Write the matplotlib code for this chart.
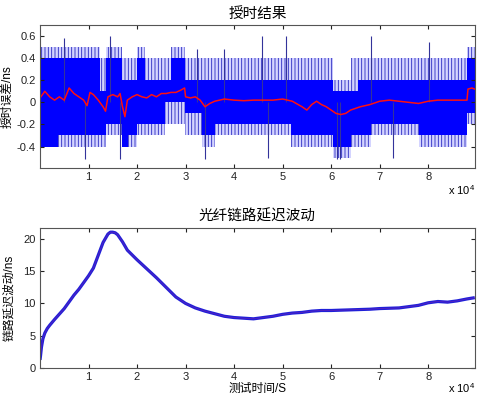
import numpy as np
import matplotlib
matplotlib.use('Agg')
import matplotlib.pyplot as plt

plt.rcParams['font.family'] = ['Liberation Sans', 'Noto Sans CJK SC']
plt.rcParams['mathtext.default'] = 'regular'
plt.rcParams['hatch.linewidth'] = 0.6

# ---- top panel: timing error (x in units of 1e4 s) ----
band_edges = [0, 0.38, 1.24, 1.36, 1.70, 1.82, 2.00, 2.17, 2.58, 2.69, 2.99,
              3.33, 3.60, 5.18, 6.03, 6.40, 6.55, 6.82, 7.82, 8.81, 8.96]
band_top = [0.4, 0.4, 0.1, 0.4, 0.2, 0.2, 0.4, 0.2, 0.2, 0.4,
            0.2, 0.2, 0.2, 0.2, 0.1, 0.1, 0.2, 0.2, 0.2, 0.4]
fringe_top = [0.5, 0.5, 0.4, 0.5, 0.4, 0.4, 0.5, 0.4, 0.4, 0.5,
              0.4, 0.4, 0.4, 0.4, 0.2, 0.4, 0.4, 0.4, 0.4, 0.5]
band_bot = [-0.4, -0.3, -0.3, -0.2, -0.4, -0.3, -0.2, -0.2, 0.0, 0.0,
            -0.1, -0.3, -0.2, -0.3, -0.4, -0.3, -0.3, -0.2, -0.3, -0.1]
fringe_bot = [-0.4, -0.4, -0.4, -0.3, -0.4, -0.4, -0.3, -0.3, -0.2, -0.2,
              -0.3, -0.4, -0.3, -0.4, -0.5, -0.4, -0.4, -0.3, -0.4, -0.2]

spike_up_t = [0.50, 1.45, 3.24, 3.79, 4.57, 5.07, 6.83, 8.01]
spike_up_v = [0.58, 0.60, 0.48, 0.48, 0.60, 0.60, 0.60, 0.55]
spike_dn_t = [0.93, 1.65, 3.41, 4.69, 6.12, 6.18, 7.27]
spike_dn_v = [-0.51, -0.51, -0.51, -0.50, -0.51, -0.51, -0.50]

mean_t = [0, 0.1, 0.2, 0.3, 0.4, 0.5, 0.6, 0.7, 0.8, 0.9, 0.97, 1.03, 1.1, 1.2,
          1.3, 1.35, 1.4, 1.5, 1.6, 1.65, 1.7, 1.75, 1.8, 1.9, 2.0, 2.1, 2.2,
          2.3, 2.4, 2.5, 2.6, 2.7, 2.8, 2.9, 2.98, 3.0, 3.1, 3.2, 3.3, 3.4,
          3.5, 3.6, 3.7, 3.8, 4.0, 4.2, 4.4, 4.6, 4.8, 5.0, 5.2, 5.4, 5.5,
          5.6, 5.7, 5.8, 5.9, 6.0, 6.1, 6.2, 6.3, 6.4, 6.6, 6.8, 7.0, 7.2,
          7.4, 7.6, 7.8, 8.0, 8.2, 8.4, 8.6, 8.8, 8.82, 8.9, 8.96]
mean_v = [0.04, 0.10, 0.05, 0.02, 0.05, 0.02, 0.13, 0.08, 0.05, 0.02, -0.03, 0.09,
          0.07, 0.02, -0.04, -0.08, 0.05, 0.07, 0.05, 0.08, -0.04, -0.13, 0.02,
          0.05, 0.07, 0.05, 0.04, 0.07, 0.05, 0.08, 0.08, 0.09, 0.09, 0.11,
          0.13, 0.05, 0.04, 0.05, 0.02, -0.04, -0.01, 0.01, 0.02, 0.03, 0.02,
          0.015, 0.02, 0.02, 0.02, 0.03, 0.01, -0.04, -0.07, -0.02, 0.01,
          -0.02, -0.04, -0.07, -0.10, -0.11, -0.10, -0.07, -0.04, -0.02, 0.01,
          0.02, 0.01, 0.0, -0.01, 0.01, 0.02, 0.02, 0.02, 0.02, 0.12, 0.13, 0.12]

# ---- bottom panel: fibre link delay ----
delay_t = [0, 0.01, 0.03, 0.06, 0.1, 0.15, 0.2, 0.3, 0.5, 0.7, 0.8, 1.0, 1.1,
           1.2, 1.3, 1.4, 1.45, 1.5, 1.55, 1.6, 1.7, 1.8, 2.0, 2.2, 2.4, 2.6,
           2.8, 3.0, 3.2, 3.4, 3.6, 3.8, 4.0, 4.2, 4.4, 4.6, 4.8, 5.0, 5.2,
           5.4, 5.6, 5.8, 6.0, 6.4, 6.8, 7.0, 7.4, 7.8, 8.0, 8.2, 8.4, 8.6,
           8.8, 8.96]
delay_v = [1.2, 1.8, 3.2, 4.5, 5.4, 6.1, 6.6, 7.5, 9.2, 11.3, 12.2, 14.3, 15.5,
           17.5, 19.5, 20.8, 21.1, 21.1, 21.0, 20.7, 19.6, 18.3, 16.8, 15.4,
           14.0, 12.5, 11.0, 10.0, 9.3, 8.8, 8.4, 8.0, 7.8, 7.7, 7.6, 7.8, 8.0,
           8.3, 8.5, 8.6, 8.8, 8.9, 8.9, 9.0, 9.1, 9.2, 9.3, 9.7, 10.1, 10.3,
           10.2, 10.4, 10.7, 10.9]

xticks = [1, 2, 3, 4, 5, 6, 7, 8]
scale = 1e4


def step(vals):
    return list(vals) + [vals[-1]]


def matlab_axes(ax):
    ax.tick_params(direction='in', top=True, right=True, length=3,
                   labelsize=8, colors='#222222', pad=3)
    for s in ax.spines.values():
        s.set_color('#555555')
        s.set_linewidth(0.8)
    ax.set_xticks([x * scale for x in xticks])
    ax.set_xticklabels([str(x) for x in xticks])
    ax.set_xlim(0, 8.96 * scale)


fig = plt.figure(figsize=(4.82, 3.97), dpi=100)
ax1 = fig.add_axes([0.083, 0.578, 0.902, 0.359])
ax2 = fig.add_axes([0.083, 0.074, 0.902, 0.3525])

te = np.array(band_edges) * scale
blue = '#0000ff'
ax1.fill_between(te, step(fringe_bot), step(fringe_top), step='post',
                 facecolor=(0.45, 0.45, 1.0, 0.3), edgecolor='#2626c0',
                 hatch='|||||', linewidth=0)
ax1.fill_between(te, step(band_bot), step(band_top), step='post',
                 facecolor=blue, linewidth=0)
ax1.vlines(np.array(spike_up_t) * scale, 0, spike_up_v, color='#33339a', lw=0.8)
ax1.vlines(np.array(spike_dn_t) * scale, spike_dn_v, 0, color='#33339a', lw=0.8)
ax1.plot(np.array(mean_t) * scale, mean_v, color='#ff1010', lw=1.1)
matlab_axes(ax1)
ax1.set_ylim(-0.59, 0.7)
ax1.set_yticks([-0.4, -0.2, 0, 0.2, 0.4, 0.6])
ax1.set_yticklabels(['-0.4', '-0.2', '0', '0.2', '0.4', '0.6'])
ax1.set_title('授时结果', fontsize=10.5, pad=5)
ax1.set_ylabel('授时误差/ns', fontsize=8.5, labelpad=2)

dt = np.array(delay_t) * scale
ax2.plot(dt, delay_v, color='#2020d8', lw=2.3, solid_capstyle='butt')
ax2.plot(dt, delay_v, color='#a020a0', lw=0.5, alpha=0.5)
matlab_axes(ax2)
ax2.set_ylim(0, 21.8)
ax2.set_yticks([0, 5, 10, 15, 20])
ax2.set_title('光纤链路延迟波动', fontsize=10.5, pad=5)
ax2.set_ylabel('链路延迟波动/ns', fontsize=8.5, labelpad=6)
ax2.set_xlabel('测试时间/S', fontsize=8.5, labelpad=1)

# MATLAB-style exponent labels below the right end of each x axis
fig.text(0.985, 1 - 197 / 397, 'x 10$^4$', ha='right', va='bottom', fontsize=8)
fig.text(0.985, 0.004, 'x 10$^4$', ha='right', va='bottom', fontsize=8)

fig.savefig('out.png', dpi=100)
